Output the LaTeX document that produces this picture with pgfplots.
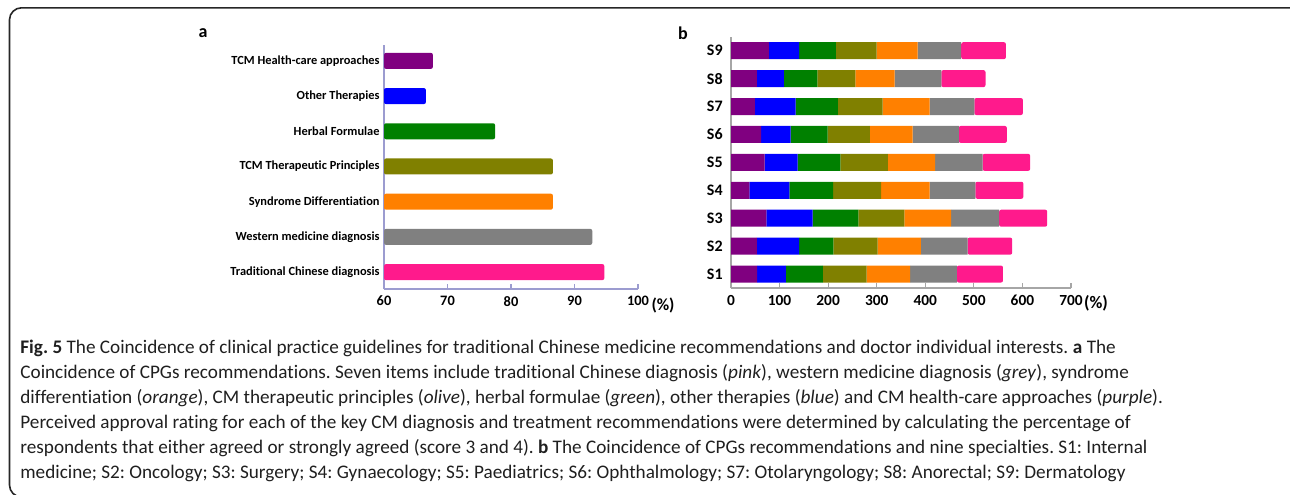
\documentclass[border=0pt]{standalone}
\usepackage{pgfplots}
\usepackage{pgfplotstable}
\pgfplotsset{compat=1.18}
\usepackage{fontspec}
\setmainfont{Carlito}[Ligatures=NoCommon]

\definecolor{cpurple}{HTML}{800080}
\definecolor{cblue}{HTML}{0000FF}
\definecolor{cgreen}{HTML}{008000}
\definecolor{colive}{HTML}{808000}
\definecolor{corange}{HTML}{FF8000}
\definecolor{cgrey}{HTML}{808080}
\definecolor{cpink}{HTML}{FF1A8C}
\definecolor{axisA}{HTML}{9C9CD0}
\definecolor{axisB}{HTML}{A6A6A6}

% panel b: segment lengths per specialty (y = 0 is S1)
\pgfplotstableread{
y purple blue green olive orange grey pink
0 54 59 76 90 90 96 95
1 53 87 71 91 89 96 92
2 73 95 94 95 96 99 99
3 38 82 90 99 100 94 99
4 69 68 88 98 97 98 98
5 62 61 76 87 88 95 99
6 49 84 87 92 97 92 100
7 53 56 69 78 81 96 91
8 78 62 76 84 84 90 92
}\specialties

\begin{document}
\begin{tikzpicture}
\path[use as bounding box] (0,0) rectangle (645pt,-247pt);
\draw[line width=0.8pt, black!85, rounded corners=6pt] (4.75pt,-248.5pt) rectangle (660pt,-3.9pt);

\node[font=\fontsize{9}{10}\selectfont\bfseries] at (101.5pt,-16.5pt) {a};
\node[font=\fontsize{9}{10}\selectfont\bfseries] at (341.5pt,-16.5pt) {b};

% panel a
\begin{axis}[
  at={(192pt,-144.5pt)},
  width=127pt, height=122pt, scale only axis,
  xbar, bar width=8pt, bar shift=0pt,
  xmin=60, xmax=100, ymin=-0.48, ymax=6.45,
  axis x line*=bottom, axis y line*=left,
  axis line style={draw=axisA, line width=0.6pt},
  xtick={60,70,80,90,100},
  tick align=inside, major tick length=2.5pt,
  xtick style={draw=axisA, line width=0.6pt},
  ytick={0,...,6},
  yticklabels={Traditional Chinese diagnosis, Western medicine diagnosis, Syndrome Differentiation, TCM Therapeutic Principles, Herbal Formulae, Other Therapies, TCM Health-care approaches},
  ytick style={draw=none},
  yticklabel style={font=\fontsize{6.2}{7}\selectfont\bfseries, inner sep=0pt, xshift=-2pt},
  xticklabel style={font=\fontsize{7.2}{8}\selectfont\bfseries},
  /pgf/number format/assume math mode=true,
]
\addplot[fill=cpink, draw=none, rounded corners=1pt] coordinates {(94.7,0)};
\addplot[fill=cgrey, draw=none, rounded corners=1pt] coordinates {(92.8,1)};
\addplot[fill=corange, draw=none, rounded corners=1pt] coordinates {(86.6,2)};
\addplot[fill=colive, draw=none, rounded corners=1pt] coordinates {(86.6,3)};
\addplot[fill=cgreen, draw=none, rounded corners=1pt] coordinates {(77.5,4)};
\addplot[fill=cblue, draw=none, rounded corners=1pt] coordinates {(66.6,5)};
\addplot[fill=cpurple, draw=none, rounded corners=1pt] coordinates {(67.7,6)};
\end{axis}
\node[font=\fontsize{8.5}{9}\selectfont\bfseries] at (331.5pt,-152.5pt) {(\%)};

% panel b
\begin{axis}[
  at={(365.5pt,-144pt)},
  width=170pt, height=125.5pt, scale only axis,
  xbar stacked, bar width=8.5pt,
  xmin=0, xmax=700, ymin=-0.5, ymax=8.49,
  axis x line*=bottom, axis y line*=left,
  axis line style={draw=axisB, line width=0.6pt},
  xtick={0,100,...,700},
  tick align=inside, major tick length=2.5pt,
  xtick style={draw=axisB, line width=0.6pt},
  ytick={0,...,8},
  yticklabels={S1,S2,S3,S4,S5,S6,S7,S8,S9},
  ytick style={draw=none},
  yticklabel style={font=\fontsize{8}{9}\selectfont\bfseries, inner sep=0pt, xshift=-4pt},
  xticklabel style={font=\fontsize{7.7}{9}\selectfont\bfseries},
  /pgf/number format/assume math mode=true,
]
\addplot[fill=cpurple, draw=none] table[x=purple, y=y] {\specialties};
\addplot[fill=cblue, draw=none] table[x=blue, y=y] {\specialties};
\addplot[fill=cgreen, draw=none] table[x=green, y=y] {\specialties};
\addplot[fill=colive, draw=none] table[x=olive, y=y] {\specialties};
\addplot[fill=corange, draw=none] table[x=orange, y=y] {\specialties};
\addplot[fill=cgrey, draw=none] table[x=grey, y=y] {\specialties};
\addplot[fill=cpink, draw=none, rounded corners=1pt] table[x=pink, y=y] {\specialties};
\end{axis}
\node[font=\fontsize{8.8}{9}\selectfont\bfseries] at (548pt,-151.5pt) {(\%)};

% caption
\node[anchor=base west, inner sep=0pt, text=black!88] at (10pt,-176.5pt) {\parbox[t]{640pt}{\fontsize{9.6}{12.5}\selectfont\raggedright\frenchspacing
\textbf{Fig. 5} The Coincidence of clinical practice guidelines for traditional Chinese medicine recommendations and doctor individual interests. \textbf{a} The\\
Coincidence of CPGs recommendations. Seven items include traditional Chinese diagnosis (\textit{pink}), western medicine diagnosis (\textit{grey}), syndrome\\
differentiation (\textit{orange}), CM therapeutic principles (\textit{olive}), herbal formulae (\textit{green}), other therapies (\textit{blue}) and CM health-care approaches (\textit{purple}).\\
Perceived approval rating for each of the key CM diagnosis and treatment recommendations were determined by calculating the percentage of\\
respondents that either agreed or strongly agreed (score 3 and 4). \textbf{b} The Coincidence of CPGs recommendations and nine specialties. S1: Internal\\
medicine; S2: Oncology; S3: Surgery; S4: Gynaecology; S5: Paediatrics; S6: Ophthalmology; S7: Otolaryngology; S8: Anorectal; S9: Dermatology}};
\end{tikzpicture}
\end{document}
